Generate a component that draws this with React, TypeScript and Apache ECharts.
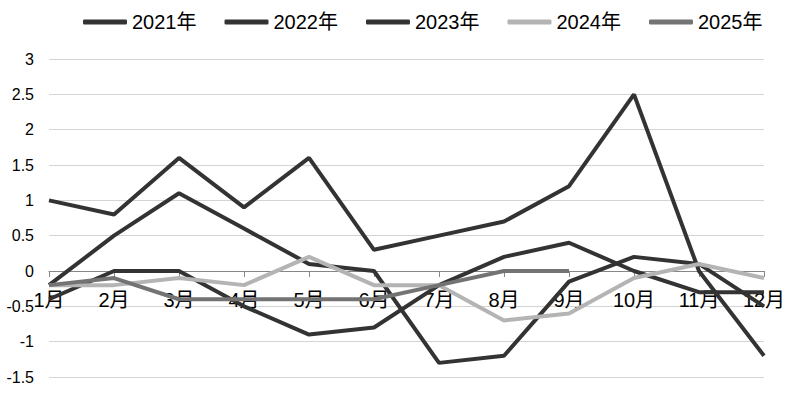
import React, { useEffect, useRef } from "react";
import * as echarts from "echarts";

const months = ["1月", "2月", "3月", "4月", "5月", "6月", "7月", "8月", "9月", "10月", "11月", "12月"];
const years = ["2021年", "2022年", "2023年", "2024年", "2025年"];
const y2021 = [1.0, 0.8, 1.6, 0.9, 1.6, 0.3, 0.5, 0.7, 1.2, 2.5, 0.0, -1.2];
const y2022 = [-0.2, 0.5, 1.1, 0.6, 0.1, 0.0, -1.3, -1.2, -0.15, 0.2, 0.1, -0.5];
const y2023 = [-0.4, 0.0, 0.0, -0.5, -0.9, -0.8, -0.2, 0.2, 0.4, 0.0, -0.3, -0.3];
const y2024 = [-0.2, -0.2, -0.1, -0.2, 0.2, -0.2, -0.2, -0.7, -0.6, -0.1, 0.1, -0.1];
const y2025 = [-0.2, -0.1, -0.4, -0.4, -0.4, -0.4, -0.2, 0.0, 0.0];
const colors = ["#333333", "#333333", "#333333", "#b4b4b4", "#737373"];

const Y_MIN = -1.5;
const Y_MAX = 3;
const Y_STEP = 0.5;

const FONT = "'Liberation Sans', Arial, 'Noto Sans CJK SC', sans-serif";

export default function App() {
  const ref = useRef<HTMLDivElement>(null);
  useEffect(() => {
    if (!ref.current) return;
    const chart = echarts.init(ref.current, null, { renderer: "svg" });
    const data = [y2021, y2022, y2023, y2024, y2025];
    const H = 395;
    const grid = { left: 49, right: 28, top: 59, bottom: 18 };
    const gridH = H - grid.top - grid.bottom;
    // move the category axis (line, ticks, labels) up to the value 0
    const zeroOffset = -gridH * ((0 - Y_MIN) / (Y_MAX - Y_MIN));
    chart.setOption({
      animation: false,
      backgroundColor: "#ffffff",
      textStyle: { fontFamily: FONT },
      legend: {
        left: 78,
        top: 7,
        icon: "roundRect",
        itemWidth: 44,
        itemHeight: 5,
        itemGap: 28,
        textStyle: { fontSize: 20, color: "#000", fontFamily: FONT },
        data: years,
      },
      grid: { ...grid, containLabel: false, outerBoundsMode: "none" },
      xAxis: {
        type: "category",
        data: months,
        boundaryGap: false,
        position: "bottom",
        offset: zeroOffset,
        axisLine: { onZero: false, lineStyle: { color: "#868686", width: 1 } },
        axisTick: { show: true, length: 6, lineStyle: { color: "#868686" } },
        axisLabel: { fontSize: 20, color: "#000", margin: 19, fontFamily: FONT, interval: 0 },
        splitLine: { show: false },
      },
      yAxis: {
        type: "value",
        min: Y_MIN,
        max: Y_MAX,
        interval: Y_STEP,
        axisLine: { show: false },
        axisTick: { show: false },
        axisLabel: { fontSize: 16, color: "#000", margin: 15, fontFamily: FONT },
        splitLine: { lineStyle: { color: "#d4d4d4", width: 1 } },
      },
      series: years.map((name, i) => ({
        name,
        type: "line",
        data: data[i],
        symbol: "none",
        lineStyle: { width: 4, color: colors[i] },
        itemStyle: { color: colors[i] },
      })),
    });
    return () => chart.dispose();
  }, []);
  return (
    <div
      ref={ref}
      style={{ position: "fixed", left: 0, top: 0, width: 792, height: 395, background: "#fff" }}
    />
  );
}
